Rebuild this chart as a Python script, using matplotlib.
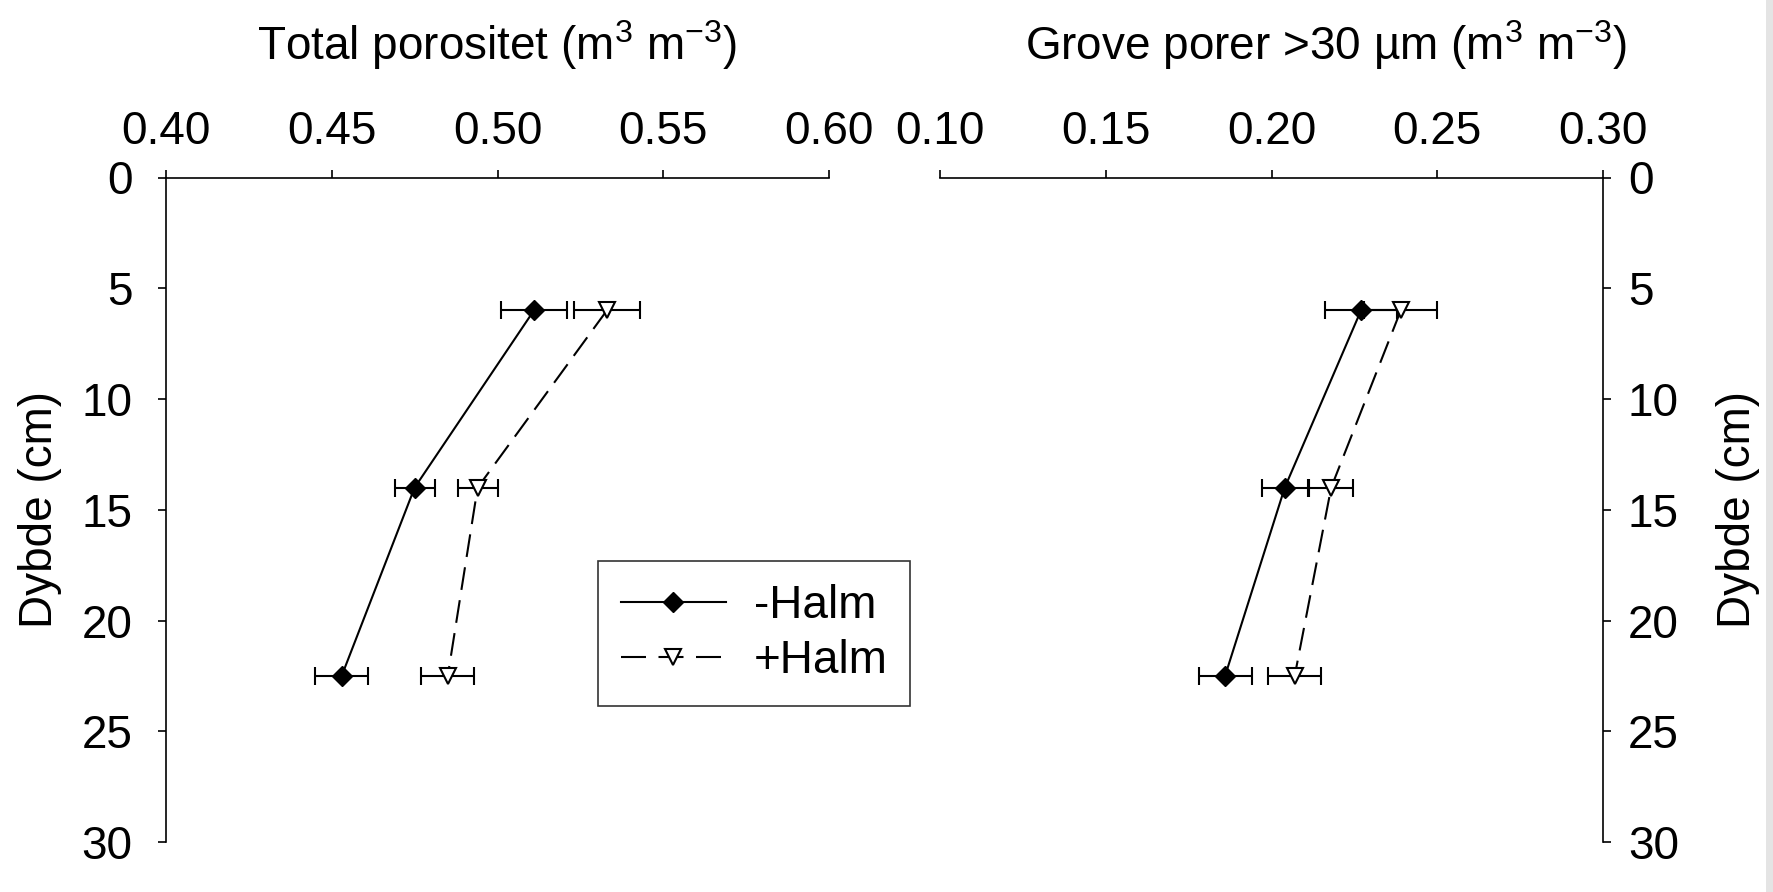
import numpy as np
import matplotlib.pyplot as plt
from matplotlib.lines import Line2D
from matplotlib.patches import Rectangle

plt.rcParams['font.family'] = ['Liberation Sans', 'DejaVu Sans']
plt.rcParams['mathtext.fontset'] = 'custom'
plt.rcParams['mathtext.rm'] = 'Liberation Sans'
plt.rcParams['mathtext.it'] = 'Liberation Sans'

# depth of samples (cm)
depth = [6, 14, 22.5]

# total porosity (m3 m-3)
tot_minus = [0.511, 0.475, 0.453]
tot_minus_err = [0.010, 0.006, 0.008]
tot_plus = [0.533, 0.494, 0.485]
tot_plus_err = [0.010, 0.006, 0.008]

# coarse pores >30 um (m3 m-3)
grov_minus = [0.227, 0.204, 0.186]
grov_minus_err = [0.011, 0.007, 0.008]
grov_plus = [0.239, 0.218, 0.207]
grov_plus_err = [0.011, 0.0066, 0.008]

yticks = [0, 5, 10, 15, 20, 25, 30]
xticks_left = [0.40, 0.45, 0.50, 0.55, 0.60]
xticks_right = [0.10, 0.15, 0.20, 0.25, 0.30]

FS = 33
W, H = 1773, 892
fig = plt.figure(figsize=(W / 100, H / 100), dpi=100)

ax1 = fig.add_axes([166 / W, 1 - 842 / H, 663 / W, 664.5 / H])
ax2 = fig.add_axes([940 / W, 1 - 842 / H, 663 / W, 664.5 / H])


def draw_panel(ax, minus, minus_err, plus, plus_err, xticks, side):
    ax.errorbar(minus, depth, xerr=minus_err, fmt='none', ecolor='black',
                elinewidth=1.5, capsize=6.5, capthick=1.5, zorder=2)
    ax.errorbar(plus, depth, xerr=plus_err, fmt='none', ecolor='black',
                elinewidth=1.5, capsize=6.5, capthick=1.5, zorder=2)
    ax.plot(minus, depth, color='black', lw=1.5, marker='D', ms=10,
            mfc='black', mec='black', zorder=3)
    ax.plot(plus, depth, color='black', lw=1.5, dashes=(11, 5), marker='v',
            ms=12, mfc='white', mec='black', mew=1.5, zorder=3)

    ax.set_xlim(xticks[0], xticks[-1])
    ax.set_ylim(30, 0)
    ax.set_xticks(xticks)
    ax.set_xticklabels([f'{v:.2f}' for v in xticks])
    ax.set_yticks(yticks)
    ax.xaxis.tick_top()
    ax.spines['bottom'].set_visible(False)
    if side == 'left':
        ax.spines['right'].set_visible(False)
        ax.yaxis.tick_left()
        ax.tick_params(axis='y', pad=18)
    else:
        ax.spines['left'].set_visible(False)
        ax.yaxis.tick_right()
        ax.tick_params(axis='y', pad=12)
    for s in ax.spines.values():
        s.set_linewidth(1.2)
    ax.tick_params(axis='both', direction='out', length=6, width=1.2,
                   labelsize=FS)
    ax.tick_params(axis='x', pad=11)
    ax.patch.set_visible(False)


draw_panel(ax1, tot_minus, tot_minus_err, tot_plus, tot_plus_err,
           xticks_left, 'left')
draw_panel(ax2, grov_minus, grov_minus_err, grov_plus, grov_plus_err,
           xticks_right, 'right')

fig.text(497 / W, 1 - 45 / H, r'Total porositet (m$^3$ m$^{-3}$)',
         ha='center', va='center', fontsize=FS)
fig.text(1326 / W, 1 - 45 / H, r'Grove porer >30 µm (m$^3$ m$^{-3}$)',
         ha='center', va='center', fontsize=FS)
fig.text(40 / W, 1 - 509 / H, 'Dybde (cm)', rotation=90,
         ha='center', va='center', fontsize=FS)
fig.text(1738 / W, 1 - 509 / H, 'Dybde (cm)', rotation=90,
         ha='center', va='center', fontsize=FS)

handles = [
    Line2D([], [], color='black', lw=1.5, marker='D', ms=10, mfc='black'),
    Line2D([], [], color='black', lw=1.5, dashes=(12, 6), marker='v', ms=11,
           mfc='white', mew=1.5),
]
leg = fig.legend(handles, ['-Halm', '+Halm'], loc='center',
                 bbox_to_anchor=(754 / W, 1 - 633.5 / H), fontsize=FS,
                 frameon=True, fancybox=False, edgecolor='black',
                 handlelength=2.3, handletextpad=0.6, borderpad=0.5,
                 labelspacing=0.25, borderaxespad=0)
leg.get_frame().set_linewidth(1.2)

# thin grey strip at the right edge of the original image
fig.patches.append(Rectangle((1766 / W, 0), 7 / W, 1, transform=fig.transFigure,
                             facecolor='#e4e4e4', edgecolor='none'))

fig.savefig('out.png', dpi=100)
